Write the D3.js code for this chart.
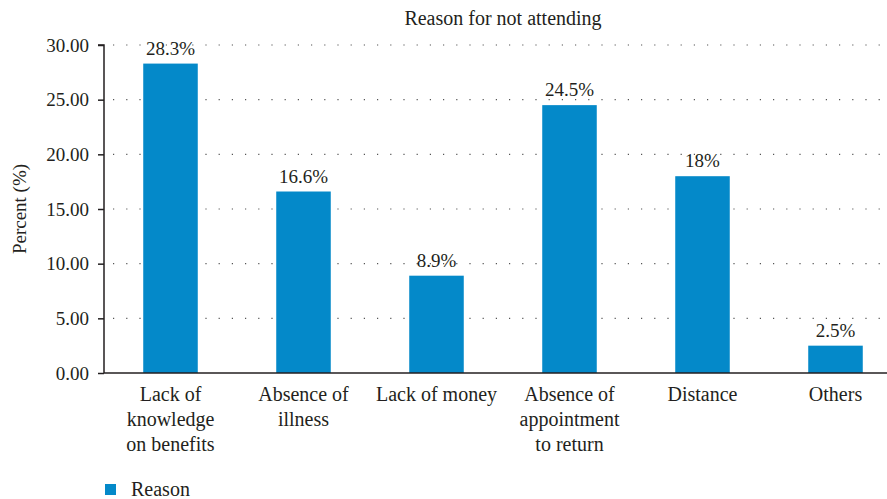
<!DOCTYPE html>
<html><head><meta charset="utf-8">
<script src="https://cdn.jsdelivr.net/npm/d3@7"></script>
<style>body{margin:0;background:#fff}svg{display:block}text{font-family:"Liberation Serif","DejaVu Serif",serif;fill:#231f20}</style>
</head><body><svg id="c" width="887" height="499"></svg>
<script>
const categories = [["Lack of","knowledge","on benefits"],["Absence of","illness"],["Lack of money"],["Absence of","appointment","to return"],["Distance"],["Others"]];
const values = [28.3, 16.6, 8.9, 24.5, 18, 2.5];
const valueLabels = ["28.3%","16.6%","8.9%","24.5%","18%","2.5%"];
const yTicks = [0,5,10,15,20,25,30];
const title = "Reason for not attending";
const yTitle = "Percent (%)";
const legendLabel = "Reason";

const svg = d3.select("#c");
const fs = 20;
const x0 = 104, x1 = 902, yB = 373, yT = 45;
const x = d3.scaleBand().domain(d3.range(values.length)).range([x0, x1]).paddingInner(0.59).paddingOuter(0.295);
const y = d3.scaleLinear().domain([0,30]).range([yB, yT]);
const color = "#0489c9";

svg.append("g").selectAll("line").data(yTicks.filter(d=>d>0)).join("line")
  .attr("x1", x0+9).attr("x2", 887).attr("y1", d=>y(d)).attr("y2", d=>y(d))
  .attr("stroke", "#555").attr("stroke-width", 1.2).attr("stroke-dasharray", "1.2 12");

svg.append("g").selectAll("rect").data(values).join("rect")
  .attr("x", (d,i)=>x(i)).attr("width", x.bandwidth())
  .attr("y", d=>y(d)).attr("height", d=>yB - y(d)).attr("fill", color);

svg.append("g").selectAll("text").data(values).join("text")
  .attr("x", (d,i)=>x(i)+x.bandwidth()/2).attr("y", d=>y(d)-9)
  .attr("text-anchor","middle").attr("font-size", fs-1).text((d,i)=>valueLabels[i]);

const yAxis = d3.axisLeft(y).tickValues(yTicks).tickFormat(d3.format(".2f")).tickSize(6).tickPadding(9);
const gy = svg.append("g").attr("transform", `translate(${x0},0)`).call(yAxis);
gy.select(".domain").attr("stroke","#231f20").attr("stroke-width",1.5).attr("d", `M-6,${yT}H0V${yB}`);
gy.selectAll(".tick line").attr("stroke","#231f20").attr("stroke-width",1.5);
gy.selectAll(".tick text").attr("font-size", fs-1).attr("font-family",'"Liberation Serif",serif').attr("fill","#231f20");

svg.append("line").attr("x1", x0).attr("x2", 887).attr("y1", yB).attr("y2", yB).attr("stroke","#231f20").attr("stroke-width",1.5);

const xl = svg.append("g").selectAll("text").data(categories).join("text")
  .attr("text-anchor","middle").attr("font-size", fs)
  .attr("transform", (d,i)=>`translate(${x(i)+x.bandwidth()/2},${yB+28})`);
xl.selectAll("tspan").data(d=>d).join("tspan").attr("x",0).attr("dy",(d,i)=>i?25:0).text(d=>d);

svg.append("text").attr("x", (x0+x1)/2).attr("y", 25).attr("text-anchor","middle").attr("font-size", fs).text(title);
svg.append("text").attr("transform", `translate(26,${(yB+yT)/2}) rotate(-90)`).attr("text-anchor","middle").attr("font-size", fs-1).text(yTitle);

svg.append("rect").attr("x",105).attr("y",484).attr("width",11).attr("height",11).attr("fill",color);
svg.append("text").attr("x",131).attr("y",496).attr("font-size", fs).text(legendLabel);
</script></body></html>
